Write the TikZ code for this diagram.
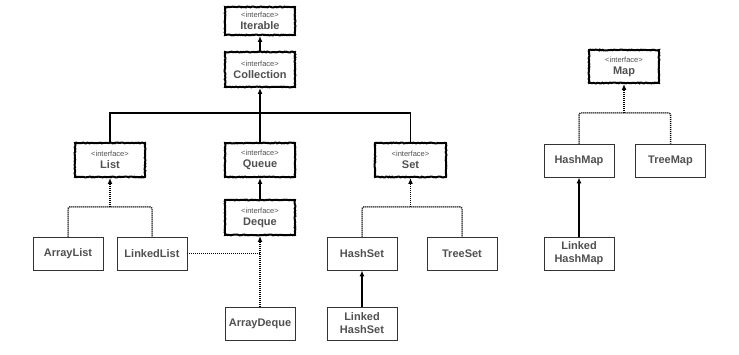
\documentclass[tikz,border=0pt]{standalone}
\usepackage{fontspec}
\setmainfont{Liberation Sans}
\usetikzlibrary{arrows.meta,decorations.pathmorphing}

\definecolor{txtgray}{HTML}{505050}

\tikzset{
  iface/.style={draw=black, line width=2pt, fill=white, minimum width=70pt,
    minimum height=34pt, inner sep=0pt, align=center, text=txtgray,
    font=\fontsize{11}{12}\selectfont,
    decoration={random steps,segment length=1.2pt,amplitude=0.4pt}, decorate},
  cls/.style={draw=black!80, line width=0.9pt, fill=white, minimum width=70pt,
    minimum height=33pt, inner sep=0pt, align=center, text=txtgray,
    font=\fontsize{11}{13}\selectfont\bfseries},
  ext/.style={line width=1.4pt, -{Latex[length=6pt,width=5pt]}},
  implline/.style={line width=1.5pt, dash pattern=on 1pt off 1pt},
  impl/.style={implline, -{Latex[length=6pt,width=5pt]}},
}
\newcommand{\iname}[1]{{\fontsize{7.5}{8}\selectfont\textless interface\textgreater}\\{\bfseries #1}}

\begin{document}
\begin{tikzpicture}[x=1pt,y=-1pt]

    \useasboundingbox (0,0) rectangle (739,355);

    % Collection hierarchy
    \node[iface, minimum height=28pt] (iterable) at (260,21) {\iname{Iterable}};
    \node[iface, minimum height=35pt] (collection) at (260,69.5) {\iname{Collection}};
    \node[iface] (list) at (110,160) {\iname{List}};
    \node[iface] (queue) at (260,160) {\iname{Queue}};
    \node[iface, minimum width=71pt] (set) at (410.5,160) {\iname{Set}};
    \node[iface, minimum height=35pt] (deque) at (260,217.5) {\iname{Deque}};

    % Implementations
    \node[cls] (arraylist) at (68,253.5) {ArrayList};
    \node[cls] (linkedlist) at (152,253.5) {LinkedList};
    \node[cls] (arraydeque) at (260,323.5) {ArrayDeque};
    \node[cls] (hashset) at (362,253.5) {HashSet};
    \node[cls] (treeset) at (462,253.5) {TreeSet};
    \node[cls] (linkedhashset) at (362,323.5) {Linked\\HashSet};

    % Map hierarchy
    \node[iface, minimum height=33pt] (map) at (624,66.5) {\iname{Map}};
    \node[cls] (hashmap) at (579,160.5) {HashMap};
    \node[cls] (treemap) at (670.5,160.5) {TreeMap};
    \node[cls] (linkedhashmap) at (579,253.5) {Linked\\HashMap};

    % Join points of the branches
    \coordinate (collbar) at (260,113);
    \coordinate (listbar) at (110,207);
    \coordinate (setbar) at (410.5,207);
    \coordinate (mapbar) at (624,113);

    % Extends
    \draw[ext] (collection) -- (iterable);
    \draw[line width=1.4pt] (list.north) |- (collbar) -| (set.north);
    \draw[ext] (queue.north) -- (collection.south);
    \draw[ext] (deque) -- (queue);
    \draw[ext] (linkedhashset) -- (hashset);
    \draw[ext] (linkedhashmap) -- (hashmap);

    % Implements
    \draw[implline, rounded corners=2pt] (arraylist.north) |- (listbar) -| (linkedlist.north);
    \draw[impl] (listbar) -- (list.south);
    \draw[implline] (linkedlist.east) -- (linkedlist.east -| arraydeque.north);
    \draw[impl] (arraydeque.north) -- (deque.south);
    \draw[implline, rounded corners=2pt] (hashset.north) |- (setbar) -| (treeset.north);
    \draw[impl] (setbar) -- (set.south);
    \draw[implline, rounded corners=2pt] (hashmap.north) |- (mapbar) -| (treemap.north);
    \draw[impl] (mapbar) -- (map.south);

\end{tikzpicture}
\end{document}
